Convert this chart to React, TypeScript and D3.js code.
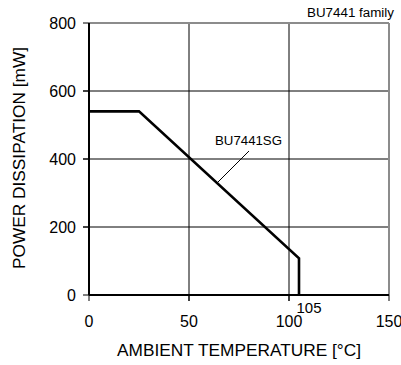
import React from "react";
import * as d3 from "d3";

const tempC = [0, 25, 105, 105];
const powerMW = [540, 540, 108, 0];
const xTicks = [0, 50, 100, 150];
const yTicks = [0, 200, 400, 600, 800];
const seriesLabel = "BU7441SG";
const familyLabel = "BU7441 family";
const extraXTick = 105;

const W = 401;
const H = 365;
const m = { left: 89, right: 389, top: 23, bottom: 295 };

export default function App() {
  const x = d3.scaleLinear().domain([0, 150]).range([m.left, m.right]);
  const y = d3.scaleLinear().domain([0, 800]).range([m.bottom, m.top]);
  const pts: [number, number][] = tempC.map((t, i) => [t, powerMW[i]]);
  const line = d3
    .line<[number, number]>()
    .x((d) => x(d[0]))
    .y((d) => y(d[1]));
  const font = "Liberation Sans, Arial, sans-serif";

  return (
    <svg
      width={W}
      height={H}
      style={{ position: "absolute", left: 0, top: 0, background: "#fff" }}
      fontFamily={font}
    >
      <rect x={0} y={0} width={W} height={H} fill="#fff" />
      {/* grid */}
      {xTicks.slice(1, -1).map((t) => (
        <line key={"gx" + t} x1={x(t)} x2={x(t)} y1={m.top} y2={m.bottom + 6} stroke="#000" strokeWidth={1} />
      ))}
      {yTicks.slice(1, -1).map((t) => (
        <line key={"gy" + t} x1={m.left - 6} x2={m.right} y1={y(t)} y2={y(t)} stroke="#000" strokeWidth={1} />
      ))}
      {/* gray frame top/right */}
      <line x1={m.left} x2={m.right} y1={m.top} y2={m.top} stroke="#8c8c8c" strokeWidth={2} />
      <line x1={m.right} x2={m.right} y1={m.top} y2={m.bottom} stroke="#8c8c8c" strokeWidth={2} />
      {/* axes */}
      <line x1={m.left} x2={m.left} y1={m.top} y2={m.bottom} stroke="#000" strokeWidth={2} />
      <line x1={m.left} x2={m.right} y1={m.bottom} y2={m.bottom} stroke="#000" strokeWidth={2} />
      {/* ticks */}
      {yTicks.map((t) => (
        <line key={"ty" + t} x1={m.left - 6} x2={m.left} y1={y(t)} y2={y(t)} stroke="#000" strokeWidth={1} />
      ))}
      {xTicks.map((t) => (
        <line key={"tx" + t} x1={x(t)} x2={x(t)} y1={m.bottom} y2={m.bottom + 6} stroke="#000" strokeWidth={1} />
      ))}
      {/* tick labels */}
      {yTicks.map((t) => (
        <text key={"ly" + t} x={m.left - 13} y={y(t) + 5.5} fontSize={16} textAnchor="end" fill="#000">
          {t}
        </text>
      ))}
      {xTicks.map((t) => (
        <text key={"lx" + t} x={x(t)} y={327} fontSize={16} textAnchor="middle" fill="#000">
          {t}
        </text>
      ))}
      <text x={x(extraXTick) + 10} y={312.5} fontSize={15} textAnchor="middle" fill="#000">
        {extraXTick}
      </text>
      {/* data */}
      <path d={line(pts) || ""} fill="none" stroke="#000" strokeWidth={2.6} strokeLinejoin="miter" />
      {/* annotation */}
      <line x1={249} y1={151} x2={218} y2={182} stroke="#000" strokeWidth={1} />
      <text x={215} y={145} fontSize={12} textLength={67} lengthAdjust="spacingAndGlyphs" fill="#000">
        {seriesLabel}
      </text>
      <text x={307} y={17.3} fontSize={12} textLength={87} lengthAdjust="spacingAndGlyphs" fill="#000">
        {familyLabel}
      </text>
      {/* axis titles */}
      <text x={117} y={356} fontSize={16} textLength={244} lengthAdjust="spacingAndGlyphs" fill="#000">
        AMBIENT TEMPERATURE [°C]
      </text>
      <text
        transform={`translate(25,158) rotate(-90)`}
        x={0}
        y={0}
        fontSize={16.5}
        textAnchor="middle"
        textLength={222}
        lengthAdjust="spacingAndGlyphs"
        fill="#000"
      >
        POWER DISSIPATION [mW]
      </text>
    </svg>
  );
}
